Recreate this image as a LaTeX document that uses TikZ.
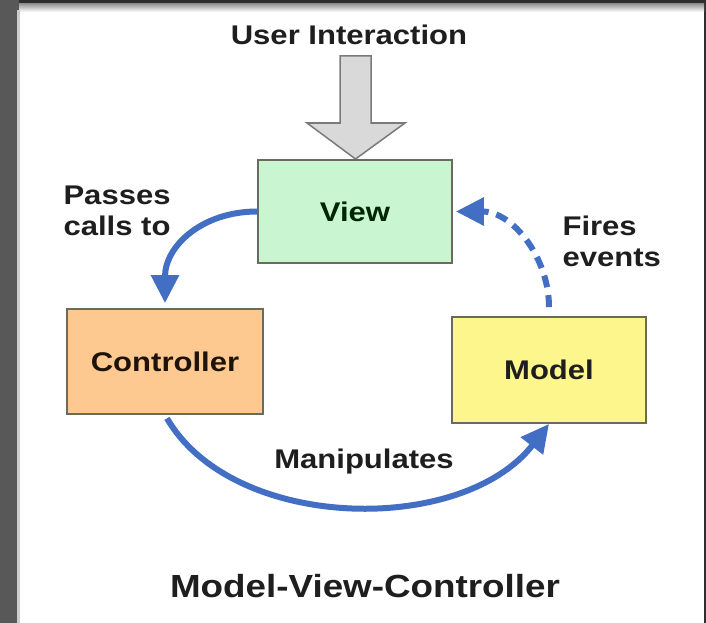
\documentclass[tikz,border=0pt]{standalone}
\usepackage{fontspec}
\newfontfamily\lab[FakeStretch=1.15]{Liberation Sans}
\usetikzlibrary{arrows.meta}
\definecolor{frameDark}{HTML}{2E2E2E}
\definecolor{frameLeft}{HTML}{585858}
\definecolor{viewFill}{HTML}{C9F5D1}
\definecolor{ctrlFill}{HTML}{FDC991}
\definecolor{modelFill}{HTML}{FCF68C}
\definecolor{boxLine}{HTML}{6A6A5E}
\definecolor{flowBlue}{RGB}{66,110,196}
\definecolor{inGray}{HTML}{D9D9D9}
\definecolor{inLine}{HTML}{7A7A7A}
\definecolor{txt}{HTML}{1E1E1E}
\tikzset{
  box/.style={draw=boxLine, line width=1.8pt, minimum width=#1, inner sep=0pt},
  lbl/.style={text=txt, font=\lab\bfseries\fontsize{27}{31}\selectfont},
  flow/.style={draw=flowBlue, line width=6pt, -{Triangle[length=28pt,width=27pt]}},
}
\begin{document}
\begin{tikzpicture}[x=1pt,y=-1pt]
\useasboundingbox (0,0) rectangle (706,623);
% frame
\fill[frameDark] (0,0) rectangle (706,623);
\fill[frameLeft] (0,0) rectangle (19,623);
\fill[white] (19,10) rectangle (704,623);
\shade[top color=gray!80, bottom color=white] (19,4) rectangle (704,12);
\fill[gray!40] (17,10) rectangle (20,623);
% user interaction arrow
\node[lbl] (ui) at (349,35) {User Interaction};
\draw[fill=inGray, draw=inLine, line width=1.5pt, line join=miter]
  (340,56) -- (371,56) -- (371,123) -- (405,123) -- (355.5,159) -- (307,123) -- (340,123) -- cycle;
% boxes
\node[box=194pt, minimum height=103pt, fill=viewFill] (view) at (355,211.5) {};
\node[box=196pt, minimum height=105pt, fill=ctrlFill] (ctrl) at (165,361.5) {};
\node[box=194pt, minimum height=106pt, fill=modelFill] (model) at (549,370) {};
\node[lbl, text=black!85!green] at (view.center) {View};
\node[lbl, text=black!85!brown] at (ctrl.center) {Controller};
\node[lbl] at (model.center) {Model};
% connectors
\draw[flow, shorten >=5pt] (view.west) .. controls +(-55,0) and +(0,-62) .. (ctrl.north);
\draw[flow, dash pattern=on 12pt off 8pt, shorten <=9pt, shorten >=3pt]
  (model.north) .. controls +(0,-58) and +(60,0) .. (view.east);
\draw[flow, shorten <=4pt] (ctrl.south) .. controls +(68,117) and +(-87,112) .. (model.south);
% labels
\node[lbl, align=left, anchor=west] (pc) at (60,211) {Passes\\calls to};
\node[lbl, align=left, anchor=west] (fe) at (559,241) {Fires\\events};
\node[lbl] (mp) at (364,462) {Manipulates};
\node[lbl, font=\lab\bfseries\fontsize{32}{36}\selectfont] (title) at (365,586) {Model-View-Controller};
\end{tikzpicture}
\end{document}
